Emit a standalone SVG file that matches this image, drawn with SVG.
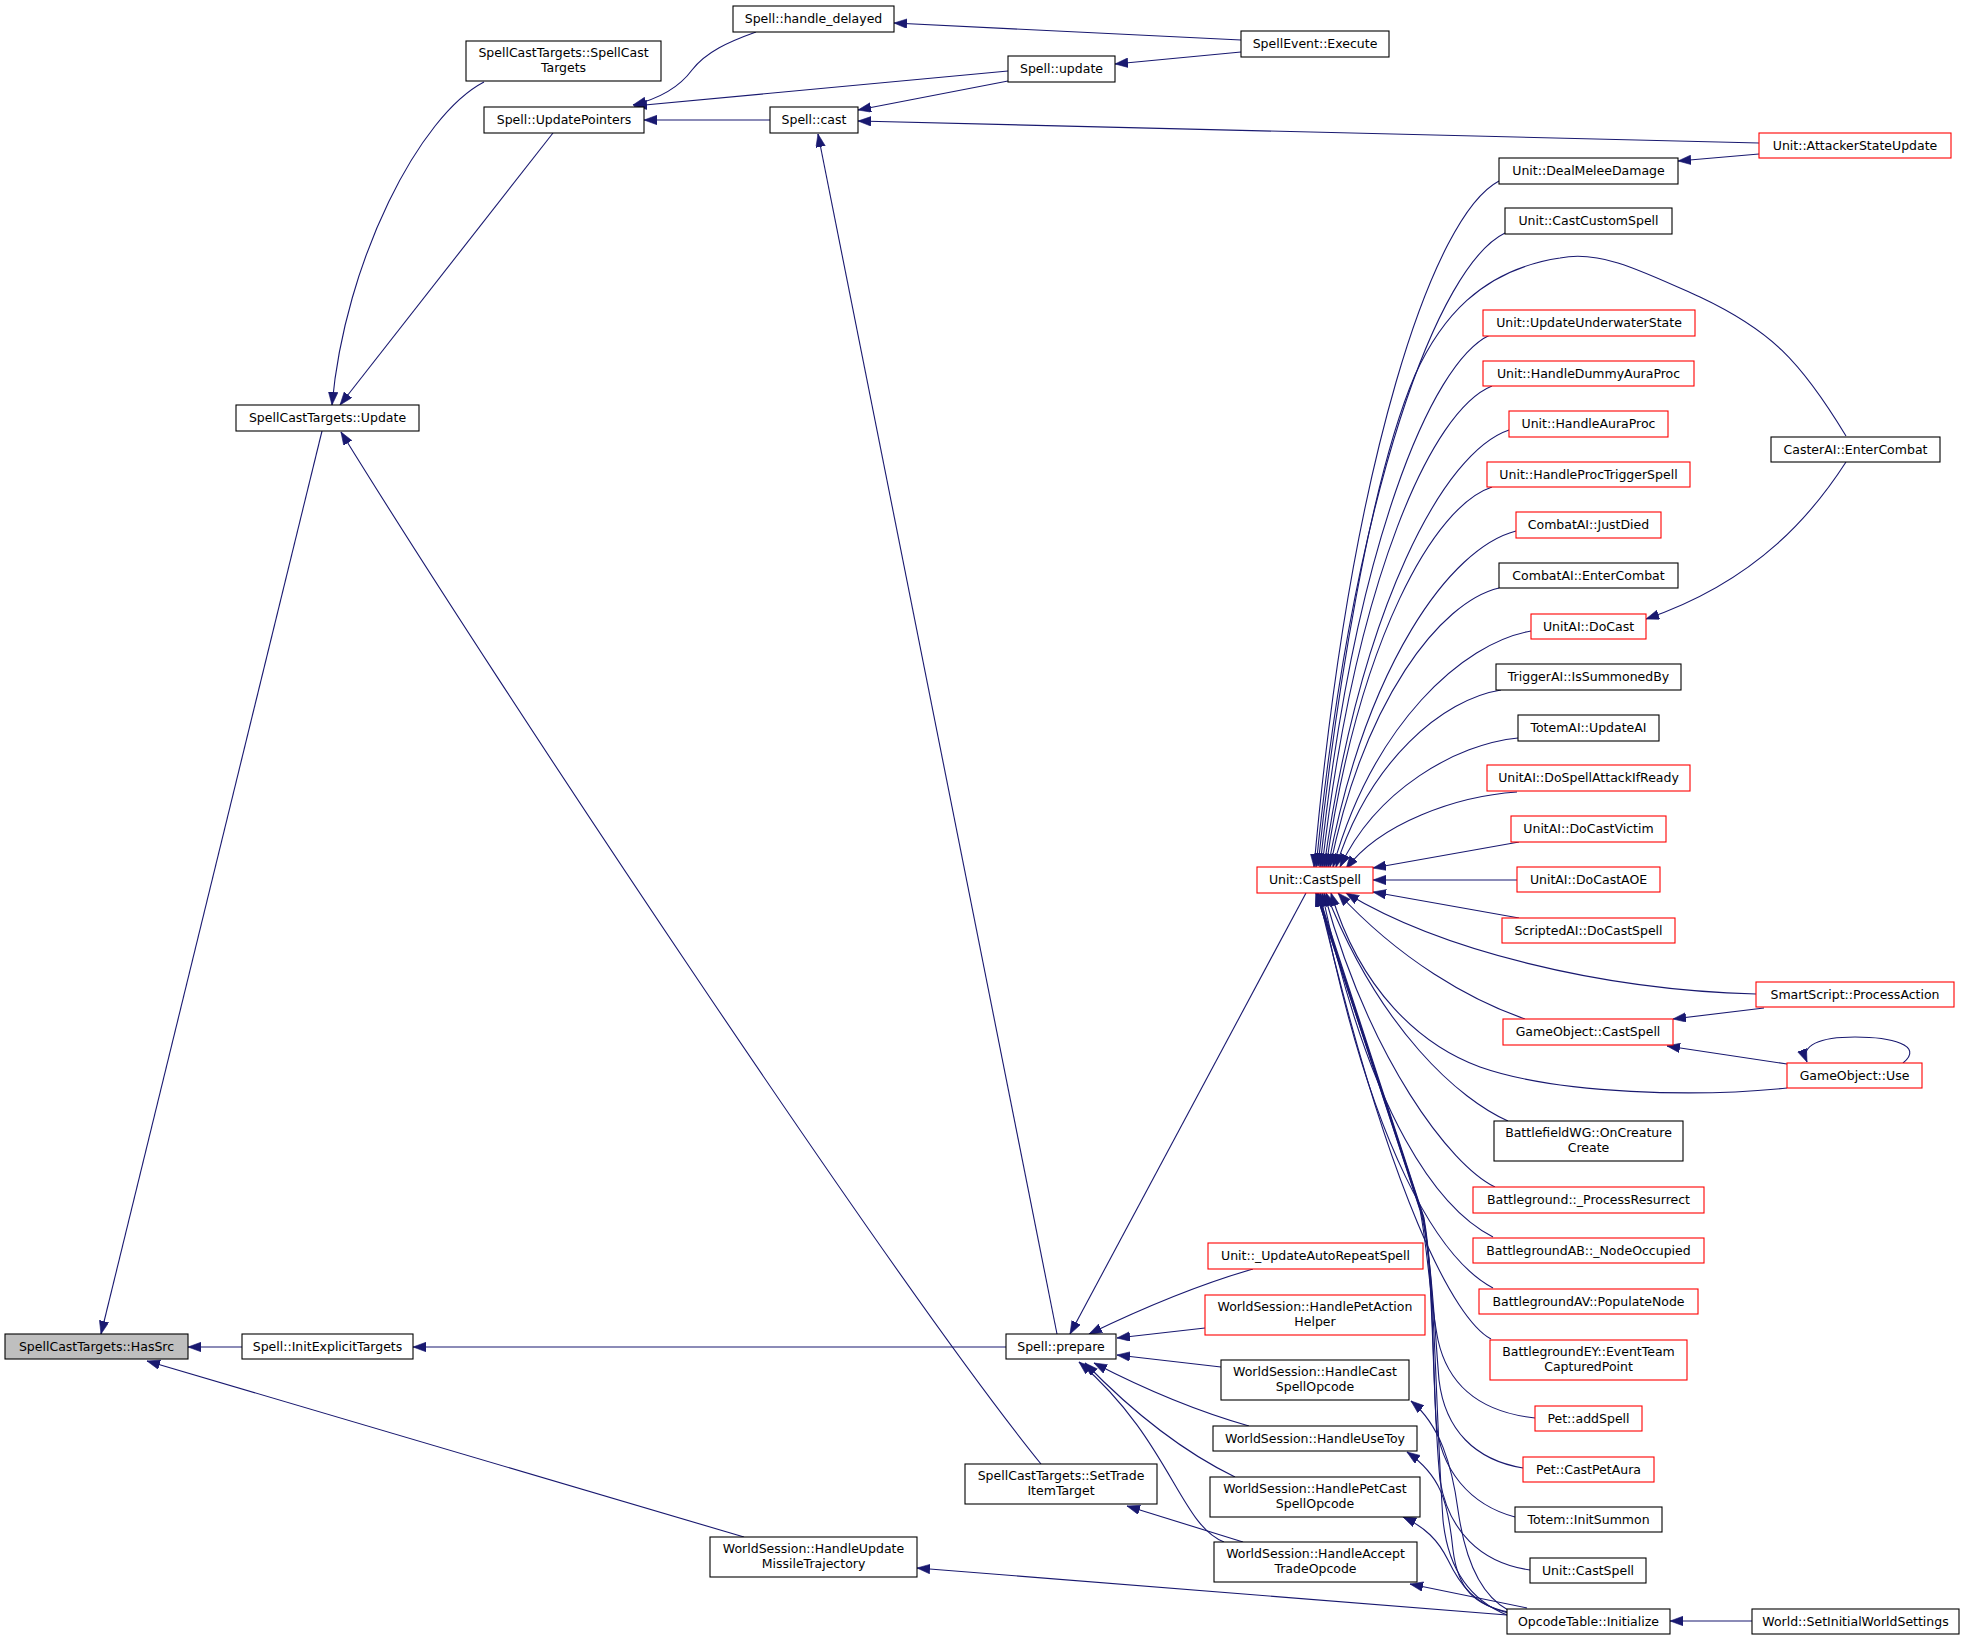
<svg xmlns="http://www.w3.org/2000/svg" width="1964" height="1640" viewBox="0 0 1964 1640">
<defs>
<marker id="arr" markerUnits="userSpaceOnUse" markerWidth="14" markerHeight="10" refX="13" refY="4.75" orient="auto" viewBox="0 0 14 10">
<path d="M0,0 L13,4.75 L0,9.5 z" fill="#191970" stroke="#191970" stroke-width="0.6"/>
</marker>
<style>
.node rect{fill:#ffffff;stroke:#000000;stroke-width:1.1}
.node.red rect{stroke:#ff0000}
.node.root rect{fill:#bfbfbf}
.node text{font-family:"DejaVu Sans","Liberation Sans",sans-serif;font-size:12.5px;text-anchor:middle;fill:#000000}
#edges path{fill:none;stroke:#191970;stroke-width:1.1;marker-end:url(#arr)}
</style>
</defs>
<rect x="0" y="0" width="1964" height="1640" fill="#ffffff"/>
<g id="edges">
<path d="M242,1347 L188,1347"/>
<path d="M322,431 L101,1334"/>
<path d="M744,1537 L147,1361"/>
<path d="M484,82 C420,115 345,260 332,405"/>
<path d="M553,133 L340,405"/>
<path d="M1041,1464 C900,1290 500,690 341,432"/>
<path d="M756,32 C728,42 706,52 692,70 C681,85 662,98 633,105"/>
<path d="M1008,71 L634,106"/>
<path d="M770,120 L644,120"/>
<path d="M1241,40 L894,23"/>
<path d="M1241,52 L1115,64"/>
<path d="M1008,81 L858,110"/>
<path d="M1759,143 L858,121"/>
<path d="M1057,1334 L818,134"/>
<path d="M1759,154 L1678,161"/>
<path d="M1006,1347 L413,1347"/>
<path d="M1306,893 L1070,1334"/>
<path d="M1253,1269 Q1180,1290 1089,1334"/>
<path d="M1205,1328 L1117,1338"/>
<path d="M1221,1367 L1117,1355"/>
<path d="M1249,1426 Q1175,1405 1094,1363"/>
<path d="M1235,1477 C1200,1460 1150,1430 1085,1363"/>
<path d="M1224,1542 C1180,1525 1170,1440 1079,1362"/>
<path d="M1243,1542 L1127,1506"/>
<path d="M1507,1615 L917,1568"/>
<path d="M1508,1610 C1480,1595 1465,1560 1458,1510 C1452,1465 1440,1425 1411,1401"/>
<path d="M1508,1612 C1475,1605 1458,1590 1453,1550 C1448,1500 1440,1475 1407,1452"/>
<path d="M1508,1613 C1475,1605 1460,1585 1448,1560 C1438,1540 1425,1527 1403,1517"/>
<path d="M1527,1608 L1410,1584"/>
<path d="M1752,1621 L1670,1621"/>
<path d="M1846,462 C1815,510 1760,580 1646,619"/>
<path d="M1846,436 C1800,360 1770,330 1700,297 C1640,270 1600,250 1560,258 C1480,270 1440,320 1415,375 C1370,480 1335,700 1318,866"/>
<path d="M1499,181 C1434,215 1351,455 1314,867"/>
<path d="M1505,233 C1439,265 1354,487 1316,867"/>
<path d="M1490,335 C1431,362 1354,548 1320,867"/>
<path d="M1492,386 C1432,410 1356,578 1322,867"/>
<path d="M1509,430 C1444,452 1361,605 1324,867"/>
<path d="M1492,487 C1434,506 1359,639 1326,867"/>
<path d="M1516,531 C1450,548 1366,665 1328,867"/>
<path d="M1499,588 C1440,602 1364,700 1330,867"/>
<path d="M1531,631 C1462,643 1373,725 1333,867"/>
<path d="M1501,690 C1443,699 1369,761 1336,867"/>
<path d="M1518,738 C1456,744 1376,790 1340,867"/>
<path d="M1517,792 C1457,796 1380,823 1346,869"/>
<path d="M1519,842 L1373,868"/>
<path d="M1517,880 L1373,880"/>
<path d="M1519,918 L1373,892"/>
<path d="M1756,994 C1600,990 1440,950 1346,893"/>
<path d="M1764,1008 L1673,1019"/>
<path d="M1525,1019 C1470,1000 1400,960 1338,893"/>
<path d="M1787,1088 C1700,1097 1560,1095 1480,1067 C1420,1045 1360,990 1331,893"/>
<path d="M1787,1064 L1667,1046"/>
<path d="M1903,1063 C1925,1045 1890,1037 1855,1037 C1820,1037 1800,1045 1807,1062"/>
<path d="M1508,1121 C1460,1100 1380,1030 1326,893"/>
<path d="M1495,1187 C1450,1165 1370,1060 1324,893"/>
<path d="M1493,1237 C1440,1210 1370,1120 1322,893"/>
<path d="M1493,1288 C1440,1260 1370,1150 1320,893"/>
<path d="M1491,1339 C1455,1320 1390,1200 1318,893"/>
<path d="M1535,1418 C1480,1412 1448,1385 1438,1340 C1430,1300 1428,1250 1420,1210 L1316,893"/>
<path d="M1523,1468 C1475,1460 1445,1430 1439,1380 C1434,1320 1432,1260 1421,1212 L1316,893"/>
<path d="M1515,1517 C1470,1505 1440,1470 1436,1420 C1432,1340 1433,1260 1422,1214 L1317,893"/>
<path d="M1530,1570 C1480,1563 1448,1530 1440,1480 C1432,1400 1434,1270 1423,1216 L1317,893"/>
<path d="M1507,1615 C1470,1600 1448,1570 1443,1520 C1436,1420 1435,1280 1424,1218 L1318,893"/>
</g>
<g id="n_hassrc" class="node root"><rect x="5" y="1334" width="183" height="25"/><text x="96.5" y="1351">SpellCastTargets::HasSrc</text></g>
<g id="n_initexplicit" class="node"><rect x="242" y="1334" width="171" height="25"/><text x="327.5" y="1351">Spell::InitExplicitTargets</text></g>
<g id="n_sct_update" class="node"><rect x="236" y="405" width="183" height="26"/><text x="327.5" y="422">SpellCastTargets::Update</text></g>
<g id="n_sct_ctor" class="node"><rect x="466" y="41" width="195" height="40"/><text x="563.5" y="57">SpellCastTargets::SpellCast</text><text x="563.5" y="71.5">Targets</text></g>
<g id="n_updatepointers" class="node"><rect x="484" y="107" width="160" height="26"/><text x="564" y="124">Spell::UpdatePointers</text></g>
<g id="n_handle_delayed" class="node"><rect x="733" y="6" width="161" height="26"/><text x="813.5" y="23">Spell::handle_delayed</text></g>
<g id="n_cast" class="node"><rect x="770" y="107" width="88" height="26"/><text x="814" y="124">Spell::cast</text></g>
<g id="n_missile" class="node"><rect x="710" y="1537" width="207" height="40"/><text x="813.5" y="1553">WorldSession::HandleUpdate</text><text x="813.5" y="1567.5">MissileTrajectory</text></g>
<g id="n_update" class="node"><rect x="1008" y="56" width="107" height="26"/><text x="1061.5" y="73">Spell::update</text></g>
<g id="n_prepare" class="node"><rect x="1006" y="1334" width="110" height="25"/><text x="1061" y="1351">Spell::prepare</text></g>
<g id="n_settrade" class="node"><rect x="965" y="1464" width="192" height="40"/><text x="1061" y="1480">SpellCastTargets::SetTrade</text><text x="1061" y="1494.5">ItemTarget</text></g>
<g id="n_execute" class="node"><rect x="1241" y="31" width="148" height="26"/><text x="1315" y="48">SpellEvent::Execute</text></g>
<g id="n_unit_castspell" class="node red"><rect x="1257" y="867" width="116" height="26"/><text x="1315" y="884">Unit::CastSpell</text></g>
<g id="n_autorepeat" class="node red"><rect x="1208" y="1243" width="215" height="26"/><text x="1315.5" y="1260">Unit::_UpdateAutoRepeatSpell</text></g>
<g id="n_petactionhelper" class="node red"><rect x="1205" y="1295" width="220" height="40"/><text x="1315" y="1311">WorldSession::HandlePetAction</text><text x="1315" y="1325.5">Helper</text></g>
<g id="n_castspellopcode" class="node"><rect x="1221" y="1360" width="188" height="40"/><text x="1315" y="1376">WorldSession::HandleCast</text><text x="1315" y="1390.5">SpellOpcode</text></g>
<g id="n_usetoy" class="node"><rect x="1213" y="1426" width="204" height="25"/><text x="1315" y="1443">WorldSession::HandleUseToy</text></g>
<g id="n_petcast" class="node"><rect x="1210" y="1477" width="210" height="40"/><text x="1315" y="1493">WorldSession::HandlePetCast</text><text x="1315" y="1507.5">SpellOpcode</text></g>
<g id="n_accepttrade" class="node"><rect x="1214" y="1542" width="203" height="40"/><text x="1315.5" y="1558">WorldSession::HandleAccept</text><text x="1315.5" y="1572.5">TradeOpcode</text></g>
<g id="n_attackerstate" class="node red"><rect x="1759" y="133" width="192" height="25"/><text x="1855" y="150">Unit::AttackerStateUpdate</text></g>
<g id="n_dealmelee" class="node"><rect x="1499" y="158" width="179" height="26"/><text x="1588.5" y="175">Unit::DealMeleeDamage</text></g>
<g id="n_castcustom" class="node"><rect x="1505" y="208" width="167" height="26"/><text x="1588.5" y="225">Unit::CastCustomSpell</text></g>
<g id="n_underwater" class="node red"><rect x="1483" y="310" width="212" height="26"/><text x="1589" y="327">Unit::UpdateUnderwaterState</text></g>
<g id="n_dummyaura" class="node red"><rect x="1483" y="361" width="211" height="25"/><text x="1588.5" y="378">Unit::HandleDummyAuraProc</text></g>
<g id="n_auraproc" class="node red"><rect x="1509" y="411" width="159" height="26"/><text x="1588.5" y="428">Unit::HandleAuraProc</text></g>
<g id="n_proctrigger" class="node red"><rect x="1487" y="462" width="203" height="25"/><text x="1588.5" y="479">Unit::HandleProcTriggerSpell</text></g>
<g id="n_justdied" class="node red"><rect x="1516" y="512" width="145" height="26"/><text x="1588.5" y="529">CombatAI::JustDied</text></g>
<g id="n_casterai" class="node"><rect x="1771" y="437" width="169" height="25"/><text x="1855.5" y="454">CasterAI::EnterCombat</text></g>
<g id="n_combatai_enter" class="node"><rect x="1499" y="563" width="179" height="25"/><text x="1588.5" y="580">CombatAI::EnterCombat</text></g>
<g id="n_docast" class="node red"><rect x="1531" y="614" width="115" height="25"/><text x="1588.5" y="631">UnitAI::DoCast</text></g>
<g id="n_triggerai" class="node"><rect x="1496" y="664" width="185" height="26"/><text x="1588.5" y="681">TriggerAI::IsSummonedBy</text></g>
<g id="n_totemai" class="node"><rect x="1518" y="715" width="141" height="26"/><text x="1588.5" y="732">TotemAI::UpdateAI</text></g>
<g id="n_dospellattack" class="node red"><rect x="1487" y="765" width="203" height="26"/><text x="1588.5" y="782">UnitAI::DoSpellAttackIfReady</text></g>
<g id="n_docastvictim" class="node red"><rect x="1511" y="816" width="155" height="26"/><text x="1588.5" y="833">UnitAI::DoCastVictim</text></g>
<g id="n_docastaoe" class="node red"><rect x="1517" y="867" width="143" height="25"/><text x="1588.5" y="884">UnitAI::DoCastAOE</text></g>
<g id="n_scriptedai" class="node red"><rect x="1502" y="918" width="173" height="25"/><text x="1588.5" y="935">ScriptedAI::DoCastSpell</text></g>
<g id="n_smartscript" class="node red"><rect x="1756" y="982" width="198" height="25"/><text x="1855" y="999">SmartScript::ProcessAction</text></g>
<g id="n_go_castspell" class="node red"><rect x="1503" y="1019" width="170" height="26"/><text x="1588" y="1036">GameObject::CastSpell</text></g>
<g id="n_go_use" class="node red"><rect x="1787" y="1063" width="135" height="25"/><text x="1854.5" y="1080">GameObject::Use</text></g>
<g id="n_wg" class="node"><rect x="1494" y="1121" width="189" height="40"/><text x="1588.5" y="1137">BattlefieldWG::OnCreature</text><text x="1588.5" y="1151.5">Create</text></g>
<g id="n_bg_resurrect" class="node red"><rect x="1473" y="1187" width="231" height="26"/><text x="1588.5" y="1204">Battleground::_ProcessResurrect</text></g>
<g id="n_bgab" class="node red"><rect x="1473" y="1238" width="231" height="25"/><text x="1588.5" y="1255">BattlegroundAB::_NodeOccupied</text></g>
<g id="n_bgav" class="node red"><rect x="1479" y="1289" width="219" height="25"/><text x="1588.5" y="1306">BattlegroundAV::PopulateNode</text></g>
<g id="n_bgey" class="node red"><rect x="1490" y="1340" width="197" height="40"/><text x="1588.5" y="1356">BattlegroundEY::EventTeam</text><text x="1588.5" y="1370.5">CapturedPoint</text></g>
<g id="n_pet_addspell" class="node red"><rect x="1535" y="1406" width="107" height="25"/><text x="1588.5" y="1423">Pet::addSpell</text></g>
<g id="n_pet_castpetaura" class="node red"><rect x="1523" y="1457" width="131" height="25"/><text x="1588.5" y="1474">Pet::CastPetAura</text></g>
<g id="n_totem_initsummon" class="node"><rect x="1515" y="1507" width="147" height="25"/><text x="1588.5" y="1524">Totem::InitSummon</text></g>
<g id="n_unit_castspell2" class="node"><rect x="1530" y="1558" width="116" height="25"/><text x="1588" y="1575">Unit::CastSpell</text></g>
<g id="n_opcodetable" class="node"><rect x="1507" y="1609" width="163" height="25"/><text x="1588.5" y="1626">OpcodeTable::Initialize</text></g>
<g id="n_world" class="node"><rect x="1752" y="1609" width="207" height="25"/><text x="1855.5" y="1626">World::SetInitialWorldSettings</text></g>
</svg>
